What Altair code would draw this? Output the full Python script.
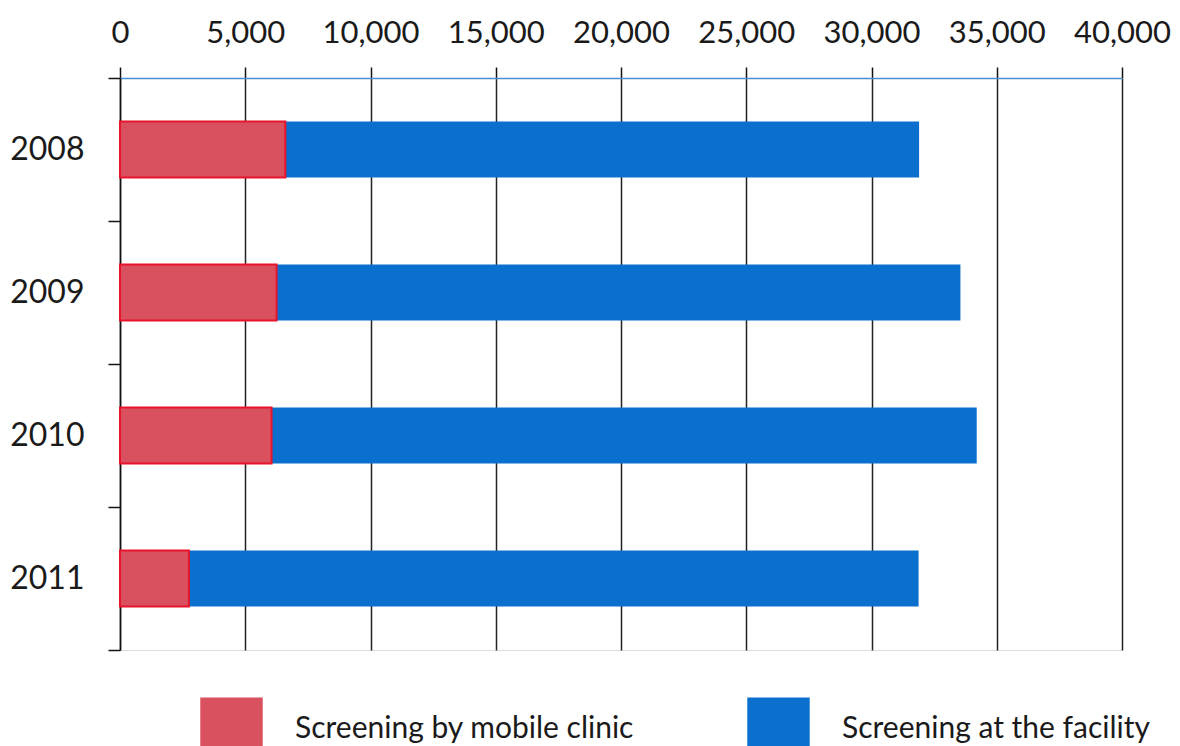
import altair as alt
import pandas as pd

years = ["2008", "2009", "2010", "2011"]
mobile = [6600, 6250, 6050, 2750]
total = [31900, 33550, 34200, 31880]
facility = [t - m for t, m in zip(total, mobile)]
series = ["Screening by mobile clinic", "Screening at the facility"]
x_ticks = [0, 5000, 10000, 15000, 20000, 25000, 30000, 35000, 40000]

rows = []
for i, y in enumerate(years):
    rows.append({"year": y, "series": series[0], "value": mobile[i], "order": 0})
    rows.append({"year": y, "series": series[1], "value": facility[i], "order": 1})
df = pd.DataFrame(rows)

FONT = "Lato"
BAND = alt.RelativeBandSize(0.39)

bars = alt.Chart(df).mark_bar(strokeWidth=0, height=BAND).encode(
    y=alt.Y("year:N", sort=years,
            scale=alt.Scale(paddingInner=0, paddingOuter=0),
            axis=alt.Axis(title=None, labelFont=FONT, labelFontSize=32,
                          labelColor="#1a1a1a", labelPadding=24,
                          tickBand="extent", tickSize=12, tickColor="#111",
                          tickWidth=1.5, domainColor="#111", domainWidth=1.5,
                          grid=False)),
    x=alt.X("value:Q", stack="zero",
            scale=alt.Scale(domain=[0, 40000], nice=False),
            axis=alt.Axis(orient="top", title=None, values=x_ticks, format=",d",
                          labelFont=FONT, labelFontSize=31, labelColor="#1a1a1a",
                          labelPadding=18, labelOverlap=False, labelFlush=False,
                          labelBound=False,
                          tickSize=11, tickColor="#111",
                          tickWidth=1.5, domainColor="#4a8fd6", domainWidth=1.5,
                          grid=True, gridColor="#222", gridWidth=1.5)),
    color=alt.Color("series:N", sort=series,
                    scale=alt.Scale(domain=series, range=["#d9505e", "#0b6fce"]),
                    legend=alt.Legend(title=None, orient="none", direction="horizontal",
                                      legendX=80, legendY=619,
                                      symbolType="square", symbolSize=3900,
                                      symbolStrokeWidth=0, symbolOpacity=1,
                                      labelFont=FONT, labelFontSize=30,
                                      labelColor="#1a1a1a", labelOffset=32,
                                      columnPadding=112, labelLimit=500)),
    order=alt.Order("order:Q"),
)

red_edge = alt.Chart(df[df["order"] == 0]).mark_bar(
    fillOpacity=0, stroke="#e8142b", strokeWidth=2, height=BAND
).encode(
    y=alt.Y("year:N", sort=years),
    x=alt.X("value:Q"),
)

chart = alt.layer(bars, red_edge).properties(
    width=1002, height=572,
    autosize=alt.AutoSizeParams(type="none"),
    padding={"left": 112, "top": 70, "right": 50, "bottom": 130},
).configure_view(stroke=None).configure(background="white")

chart.save("out.html", embed_options={"renderer": "svg", "actions": False})
